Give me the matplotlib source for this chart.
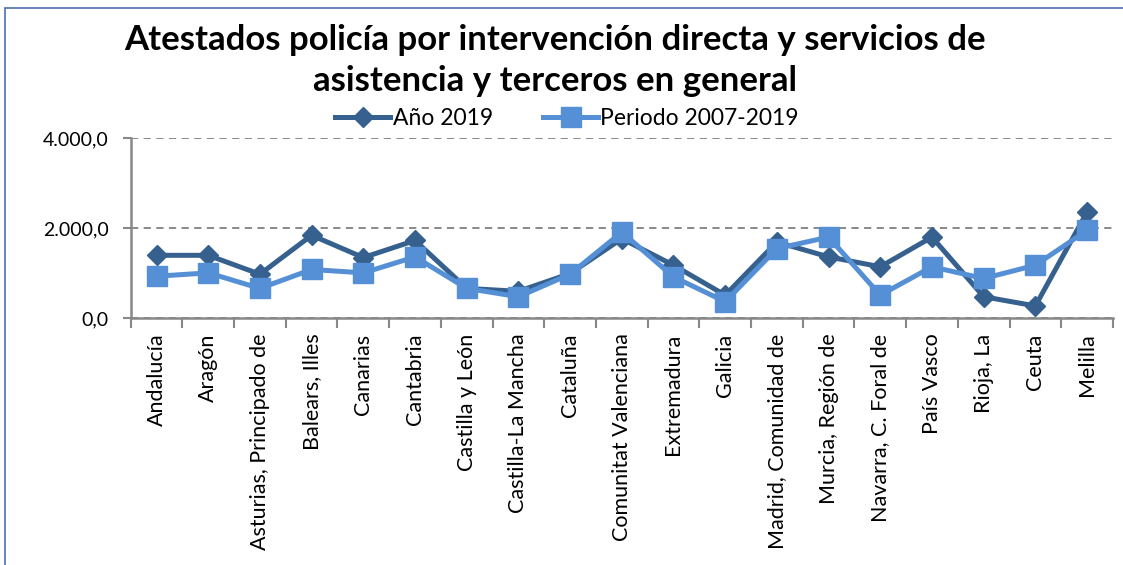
import matplotlib
matplotlib.use("Agg")
import matplotlib.pyplot as plt
from matplotlib.patches import Rectangle
from matplotlib.ticker import FuncFormatter

plt.rcParams['font.family'] = ['Lato', 'DejaVu Sans']

regiones = ["Andalucía", "Aragón", "Asturias, Principado de", "Balears, Illes",
            "Canarias", "Cantabria", "Castilla y León", "Castilla-La Mancha",
            "Cataluña", "Comunitat Valenciana", "Extremadura", "Galicia",
            "Madrid, Comunidad de", "Murcia, Región de", "Navarra, C. Foral de",
            "País Vasco", "Rioja, La", "Ceuta", "Melilla"]
anio_2019 = [1400, 1400, 980, 1845, 1350, 1730, 665, 600,
             995, 1770, 1180, 515, 1695, 1365, 1145, 1805, 480, 275, 2360]
periodo = [935, 1010, 665, 1085, 1010, 1365, 665, 480,
           980, 1915, 920, 370, 1550, 1805, 515, 1145, 885, 1180, 1955]

dark = '#36618F'
light = '#5590D6'

fig = plt.figure(figsize=(11.23, 5.65), dpi=100)
ax = fig.add_axes([0.1164, 0.4366, 0.8746, 0.3186])

x = list(range(len(regiones)))
ax.plot(x, anio_2019, color=dark, lw=3.6, marker='D', ms=10, label='Año 2019', zorder=3)
ax.plot(x, periodo, color=light, lw=3.6, marker='s', ms=14, label='Periodo 2007-2019', zorder=4)

ax.set_xlim(-0.5, len(regiones) - 0.5)
ax.set_ylim(0, 4000)
ax.set_yticks([0, 2000, 4000])
ax.yaxis.set_major_formatter(FuncFormatter(
    lambda v, p: f"{v:,.1f}".replace(",", "X").replace(".", ",").replace("X", ".")))
ax.tick_params(axis='y', labelsize=14, length=6, width=1.5, color='#888888', pad=10)

# ticks between categories, labels at the centres
ax.set_xticks([i - 0.5 for i in range(len(regiones) + 1)])
ax.set_xticklabels([])
ax.tick_params(axis='x', which='major', length=7, width=1.5, color='#888888', direction='out')
ax.set_xticks(x, minor=True)
ax.set_xticklabels(regiones, minor=True, rotation=90, fontsize=15.5, va='top', ha='center')
ax.tick_params(axis='x', which='minor', length=0, pad=11)

ax.yaxis.grid(True, linestyle='--', color='#808080', lw=1.3, dashes=(4, 3))
ax.set_axisbelow(True)
for s in ['top', 'right']:
    ax.spines[s].set_visible(False)
ax.spines['left'].set_color('#888888')
ax.spines['left'].set_linewidth(1.8)
ax.spines['bottom'].set_color('#888888')
ax.spines['bottom'].set_linewidth(1.8)

fig.text(0.494, 0.893, "Atestados policía por intervención directa y servicios de\nasistencia y terceros en general",
         ha='center', va='center', fontsize=25, fontweight='bold', linespacing=1.35)

leg = fig.legend(loc='center', bbox_to_anchor=(0.505, 0.79), ncol=2, frameon=False,
                 fontsize=16.5, handlelength=2.4, handletextpad=0.1, columnspacing=2.2,
                 borderaxespad=0)

fig.patches.append(Rectangle((5 / 1123, -0.1), 1.2, 0.1 + (565 - 8) / 565,
                             transform=fig.transFigure, fill=False,
                             edgecolor='#4A6FAE', lw=1.2))

fig.savefig('out.png', dpi=100)
